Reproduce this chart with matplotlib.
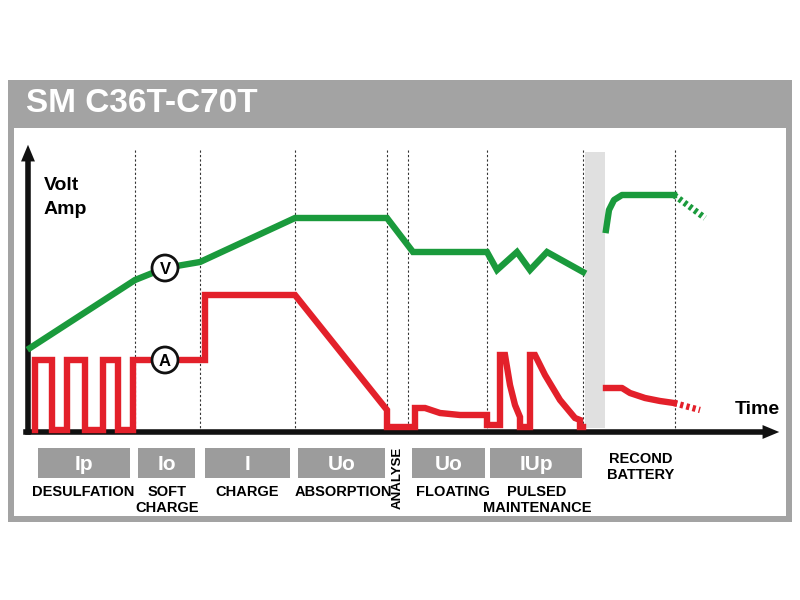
import matplotlib
matplotlib.use("Agg")
import matplotlib.pyplot as plt
from matplotlib.patches import Rectangle, Circle

# --- data (diagram coordinates, time -> x, level -> y) ---
phase_lines = [135, 200, 295, 387, 408, 487, 583, 675]
volt_x = [30, 135, 165, 200, 295, 387, 413, 487, 497, 517, 530, 547, 583]
volt_y = [348, 280, 268, 262, 218, 218, 252, 252, 270, 252, 270, 252, 272]
recond_volt_x = [606, 609, 614, 622, 674]
recond_volt_y = [230, 210, 200, 195, 195]
recond_volt_dash_x = [674, 705]
recond_volt_dash_y = [195, 218]
amp_x = [35, 35, 52, 52, 67, 67, 85, 85, 103, 103, 118, 118, 133, 133, 205, 205, 295, 387, 387, 415, 415,
         425, 440, 460, 487, 487, 500, 500, 505, 510, 515, 520, 520, 530, 530, 535, 545, 560, 575, 580, 580, 583]
amp_y = [430, 360, 360, 430, 430, 360, 360, 430, 430, 360, 360, 430, 430, 360, 360, 295, 295, 410, 427, 427, 408,
         408, 413, 415, 415, 425, 425, 355, 355, 385, 405, 417, 427, 427, 355, 355, 375, 400, 418, 420, 427, 427]
recond_amp_x = [606, 622, 630, 645, 660, 674]
recond_amp_y = [388, 388, 393, 398, 401, 403]
recond_amp_dash_x = [674, 700]
recond_amp_dash_y = [403, 410]
box_labels = ["Ip", "Io", "I", "Uo", "Uo", "IUp"]
box_spans = [(38, 130), (138, 195), (205, 290), (298, 385), (412, 485), (490, 582)]
phase_names = ["DESULFATION", "SOFT\nCHARGE", "CHARGE", "ABSORPTION", "FLOATING", "PULSED\nMAINTENANCE"]
phase_centers = [83, 167, 247, 343, 453, 537]

GREEN = "#1a9a3c"
RED = "#e3202a"
GREY = "#a3a3a3"
FONT = "Liberation Sans"

fig = plt.figure(figsize=(8, 6), dpi=100)
ax = fig.add_axes([0, 0, 1, 1])
ax.set_xlim(0, 800)
ax.set_ylim(600, 0)
ax.axis("off")

# frame
ax.add_patch(Rectangle((8, 80), 784, 442, fc=GREY, ec="none"))
ax.add_patch(Rectangle((14, 128), 772, 388, fc="white", ec="none"))
ax.text(26, 103, "SM C36T-C70T", color="white", fontsize=24, fontweight="bold", family=FONT, va="center")

# grey recond band
ax.add_patch(Rectangle((585, 152), 20, 276, fc="#e0e0e0", ec="none"))
for x in phase_lines:
    ax.plot([x, x], [150, 432], color="#333333", lw=0.8, ls=(0, (2, 2)))

# axes
ax.plot([28, 28], [432, 158], color="#111", lw=4)
ax.annotate("", xy=(28, 142), xytext=(28, 165), arrowprops=dict(arrowstyle="-|>,head_width=0.5,head_length=1.2", color="#111", lw=0))
ax.plot([26, 765], [432, 432], color="#111", lw=4)
ax.annotate("", xy=(782, 432), xytext=(760, 432), arrowprops=dict(arrowstyle="-|>,head_width=0.5,head_length=1.2", color="#111", lw=0))
ax.text(44, 185, "Volt", fontsize=14, fontweight="bold", family=FONT, va="center")
ax.text(44, 210, "Amp", fontsize=14, fontweight="bold", family=FONT, va="center")
ax.text(735, 410, "Time", fontsize=14, fontweight="bold", family=FONT, va="center")

# lines
LW = 4.6
ax.plot(volt_x, volt_y, color=GREEN, lw=LW, solid_joinstyle="miter", zorder=3)
ax.plot(recond_volt_x, recond_volt_y, color=GREEN, lw=LW, zorder=3)
ax.plot(recond_volt_dash_x, recond_volt_dash_y, color=GREEN, lw=LW, ls=(0, (0.5, 0.5)), zorder=3)
ax.plot(amp_x, amp_y, color=RED, lw=LW, solid_joinstyle="miter", zorder=3)
ax.plot(recond_amp_x, recond_amp_y, color=RED, lw=LW, zorder=3)
ax.plot(recond_amp_dash_x, recond_amp_dash_y, color=RED, lw=LW, ls=(0, (0.5, 0.5)), zorder=3)

for (cx, cy, t) in [(165, 268, "V"), (165, 360, "A")]:
    ax.add_patch(Circle((cx, cy), 13, fc="white", ec="#111", lw=2, zorder=4))
    ax.text(cx, cy + 1, t, ha="center", va="center", fontsize=12, fontweight="bold", family=FONT, zorder=5)

# phase boxes
for lab, (x0, x1) in zip(box_labels, box_spans):
    ax.add_patch(Rectangle((x0, 448), x1 - x0, 30, fc="#9c9c9c", ec="none"))
    ax.text((x0 + x1) / 2, 464, lab, ha="center", va="center", color="white", fontsize=15, fontweight="bold", family=FONT)
for name, cx in zip(phase_names, phase_centers):
    ax.text(cx, 485, name, ha="center", va="top", fontsize=10.5, fontweight="bold", family=FONT, linespacing=1.15)
ax.text(398, 478, "ANALYSE", rotation=90, ha="center", va="center", fontsize=9.5, fontweight="bold", family=FONT)
ax.text(641, 452, "RECOND\nBATTERY", ha="center", va="top", fontsize=10.5, fontweight="bold", family=FONT, linespacing=1.15)

fig.savefig("out.png", dpi=100)
